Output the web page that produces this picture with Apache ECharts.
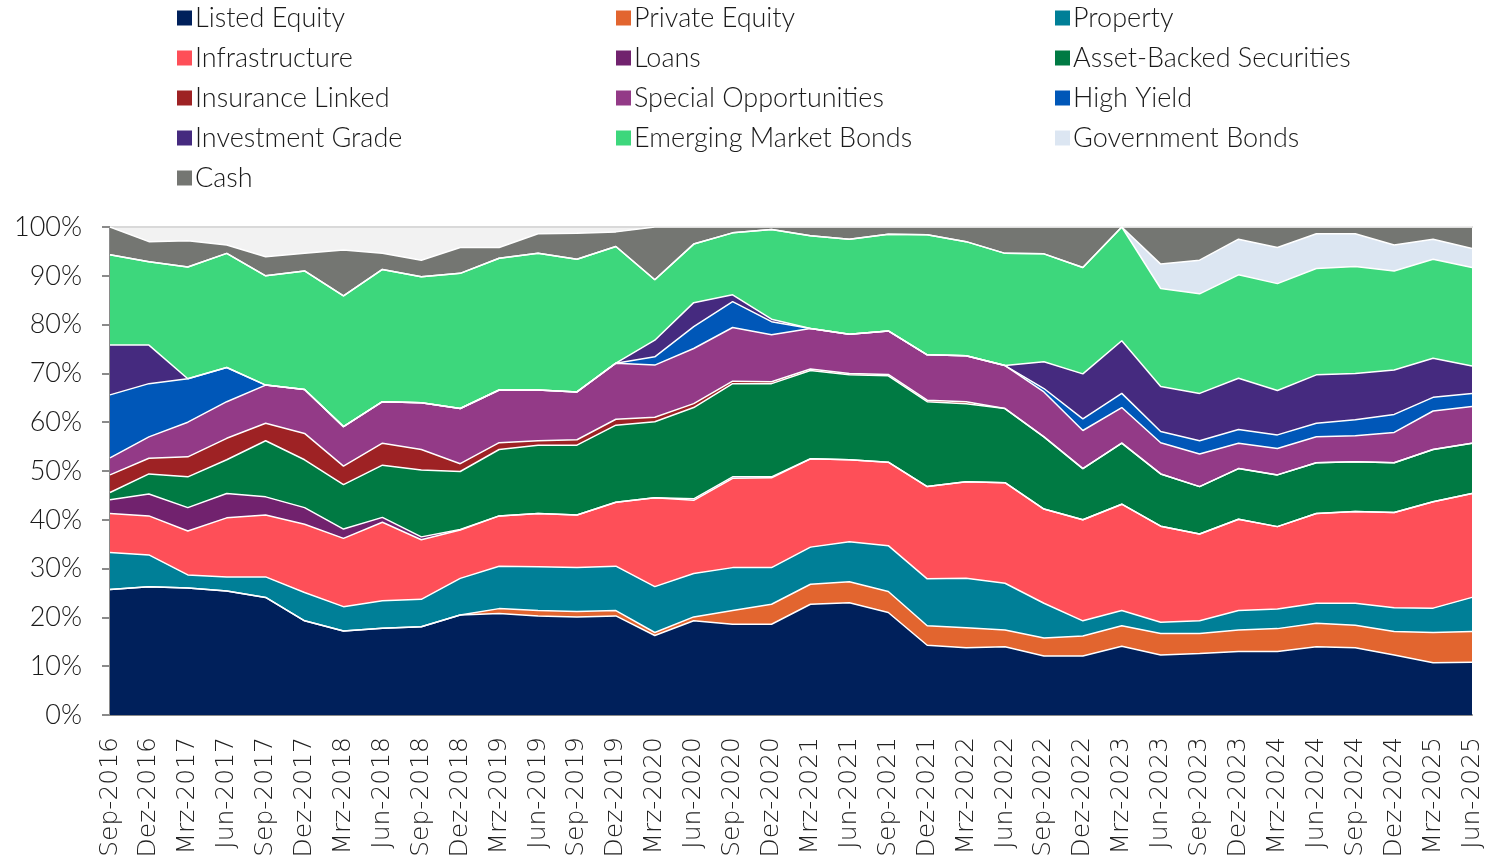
<!DOCTYPE html>
<html>
<head>
<meta charset="utf-8">
<script src="https://cdn.jsdelivr.net/npm/echarts@6/dist/echarts.min.js"></script>
<style>
  html, body { margin: 0; padding: 0; background: #fff; }
  #chart { width: 1511px; height: 862px; }
</style>
</head>
<body>
<div id="chart"></div>
<script>
// quarters
const categories = ['Sep-2016','Dez-2016','Mrz-2017','Jun-2017','Sep-2017','Dez-2017','Mrz-2018','Jun-2018','Sep-2018','Dez-2018',
  'Mrz-2019','Jun-2019','Sep-2019','Dez-2019','Mrz-2020','Jun-2020','Sep-2020','Dez-2020','Mrz-2021','Jun-2021',
  'Sep-2021','Dez-2021','Mrz-2022','Jun-2022','Sep-2022','Dez-2022','Mrz-2023','Jun-2023','Sep-2023','Dez-2023',
  'Mrz-2024','Jun-2024','Sep-2024','Dez-2024','Mrz-2025','Jun-2025'];

// shares in % (stacked bottom to top)
const listedEquity = [25.7,26.3,26.0,25.4,24.1,19.3,17.2,17.8,18.1,20.5,20.8,20.3,20.1,20.3,16.3,19.3,18.6,18.6,22.7,23.0,21.0,14.3,13.8,14.0,12.1,12.1,14.1,12.3,12.6,13.0,13.0,14.0,13.8,12.3,10.7,10.8];
const privateEquity = [0,0,0,0,0,0,0,0,0,0,1.0,1.1,1.1,1.1,0.6,0.8,2.8,4.1,4.1,4.3,4.3,4.0,4.1,3.4,3.7,4.1,4.2,4.4,4.1,4.4,4.7,4.8,4.6,4.8,6.2,6.3];
const property = [7.6,6.5,2.7,2.9,4.2,5.8,5.0,5.6,5.6,7.5,8.7,9.0,9.0,9.1,9.4,8.9,8.8,7.5,7.6,8.2,9.4,9.6,10.1,9.6,7.1,3.1,3.1,2.3,2.6,4.0,4.0,4.1,4.5,4.9,5.0,7.0];
const infrastructure = [8.0,8.0,9.0,12.1,12.7,14.0,14.0,16.1,12.2,9.9,10.3,10.9,10.8,13.1,18.2,15.0,18.3,18.4,18.1,16.8,17.1,18.9,19.8,20.6,19.3,20.7,21.8,19.7,17.8,18.7,16.9,18.4,18.8,19.5,21.8,21.3];
const loans = [2.8,4.5,4.8,5.0,3.7,3.4,1.9,1.0,0.6,0.1,0,0,0,0,0,0.3,0.3,0.2,0,0,0,0,0,0,0,0,0,0,0,0,0,0,0,0,0,0];
const assetBacked = [1.5,4.1,6.3,6.9,11.5,9.8,9.1,10.7,13.7,11.9,13.6,14.0,14.3,15.8,15.6,18.7,19.1,19.1,18.1,17.4,17.7,17.4,16.0,15.2,14.8,10.5,12.5,10.7,9.7,10.4,10.6,10.4,10.2,10.2,10.7,10.3];
const insuranceLinked = [3.6,3.2,4.1,4.4,3.6,5.4,3.8,4.5,4.2,1.6,1.4,0.9,1.1,1.2,0.9,0.8,0.5,0.4,0.3,0.3,0.3,0.3,0.4,0,0,0,0,0,0,0,0,0,0,0,0,0];
const specialOpps = [3.5,4.4,7.1,7.5,7.8,9.0,8.1,8.5,9.6,11.3,10.8,10.4,9.8,11.5,10.7,11.3,11.0,9.6,8.3,8.0,8.9,9.3,9.4,8.8,9.2,7.8,7.3,6.4,6.7,5.2,5.4,5.3,5.3,6.2,7.9,7.5];
const highYield = [12.9,10.9,8.9,7.0,0,0,0,0,0,0,0,0,0,0,1.7,4.5,5.3,2.7,0,0,0,0,0,0,0.7,2.4,2.9,2.3,2.7,2.8,2.8,2.8,3.3,3.7,2.8,2.7];
const investmentGrade = [10.2,7.9,0,0,0,0,0,0,0,0,0,0,0,0,3.4,4.9,1.4,0.5,0,0,0,0,0,0,5.5,9.2,10.8,9.2,9.7,10.5,9.1,9.9,9.5,9.1,8.0,5.6];
const emergingBonds = [18.5,17.1,22.9,23.4,22.4,24.3,26.8,27.1,25.8,27.7,27.0,28.0,27.2,23.9,12.4,12.0,12.7,18.4,19.0,19.5,19.8,24.6,23.4,23.0,22.1,21.8,23.3,20.1,20.4,21.2,21.9,21.8,21.9,20.3,20.3,20.2];
const governmentBonds = [0,0,0,0,0,0,0,0,0,0,0,0,0,0,0,0,0,0,0,0,0,0,0,0,0,0,0,5.0,6.9,7.3,7.4,7.1,6.7,5.3,4.1,3.9];
const cash = [5.7,4.1,5.4,1.7,3.9,3.6,9.4,3.3,3.4,5.3,2.2,4.0,5.3,3.0,10.8,3.5,1.2,0.5,1.8,2.5,1.5,1.6,3.0,5.4,5.5,8.3,0,7.6,6.8,2.5,4.2,1.4,1.4,3.7,2.5,4.4];

const yTicks = [0,10,20,30,40,50,60,70,80,90,100];

const seriesDefs = [
  ['Listed Equity', listedEquity, '#00205B'],
  ['Private Equity', privateEquity, '#E2652F'],
  ['Property', property, '#007F97'],
  ['Infrastructure', infrastructure, '#FE4F58'],
  ['Loans', loans, '#71226E'],
  ['Asset-Backed Securities', assetBacked, '#007A43'],
  ['Insurance Linked', insuranceLinked, '#9E2224'],
  ['Special Opportunities', specialOpps, '#933A87'],
  ['High Yield', highYield, '#0057B8'],
  ['Investment Grade', investmentGrade, '#452A7F'],
  ['Emerging Market Bonds', emergingBonds, '#3DD77C'],
  ['Government Bonds', governmentBonds, '#DCE6F2'],
  ['Cash', cash, '#747672']
];

const chart = echarts.init(document.getElementById('chart'));

const legendText = { fontFamily: 'Lato', fontWeight: 300, fontSize: 27, color: '#1a1a1a', lineHeight: 30, padding: [0, 0, 0, -2] };
function legendCol(left, names) {
  return {
    orient: 'vertical', left: left, top: -2,
    itemWidth: 15, itemHeight: 15, itemGap: 10,
    icon: 'rect', textStyle: legendText,
    data: names
  };
}

const option = {
  animation: false,
  legend: [
    legendCol(172, ['Listed Equity', 'Infrastructure', 'Insurance Linked', 'Investment Grade', 'Cash']),
    legendCol(611, ['Private Equity', 'Loans', 'Special Opportunities', 'Emerging Market Bonds']),
    legendCol(1050, ['Property', 'Asset-Backed Securities', 'High Yield', 'Government Bonds'])
  ],
  grid: {
    left: 110, right: 39, top: 227, bottom: 147,
    show: true, backgroundColor: '#F2F2F2', borderWidth: 0
  },
  xAxis: [{
    type: 'category',
    boundaryGap: false,
    data: categories,
    axisLine: { lineStyle: { color: '#8a8a8a', width: 2 } },
    axisTick: { show: false },
    axisLabel: {
      rotate: 90, interval: 0, margin: 22,
      fontFamily: 'DejaVu Sans', fontWeight: 200, fontSize: 25, color: '#222'
    }
  }, {
    type: 'category',
    position: 'top',
    boundaryGap: false,
    data: categories,
    axisLine: { lineStyle: { color: '#d9d9d9', width: 2 } },
    axisTick: { show: false },
    axisLabel: { show: false }
  }],
  yAxis: {
    type: 'value',
    min: yTicks[0], max: yTicks[yTicks.length - 1], interval: 10,
    axisLine: { show: true, lineStyle: { color: '#8a8a8a', width: 2 } },
    axisTick: { show: true, length: 8, lineStyle: { color: '#8a8a8a', width: 2 } },
    splitLine: { show: false },
    axisLabel: {
      margin: 28, formatter: '{value}%',
      fontFamily: 'Lato', fontWeight: 300, fontSize: 27, color: '#1a1a1a'
    }
  },
  series: seriesDefs.map(([name, data, color]) => ({
    name: name,
    type: 'line',
    stack: 'total',
    data: data,
    showSymbol: false,
    symbol: 'none',
    itemStyle: { color: color },
    lineStyle: { color: '#ffffff', width: 1.5 },
    areaStyle: { color: color, opacity: 1 }
  }))
};

chart.setOption(option);
</script>
</body>
</html>
